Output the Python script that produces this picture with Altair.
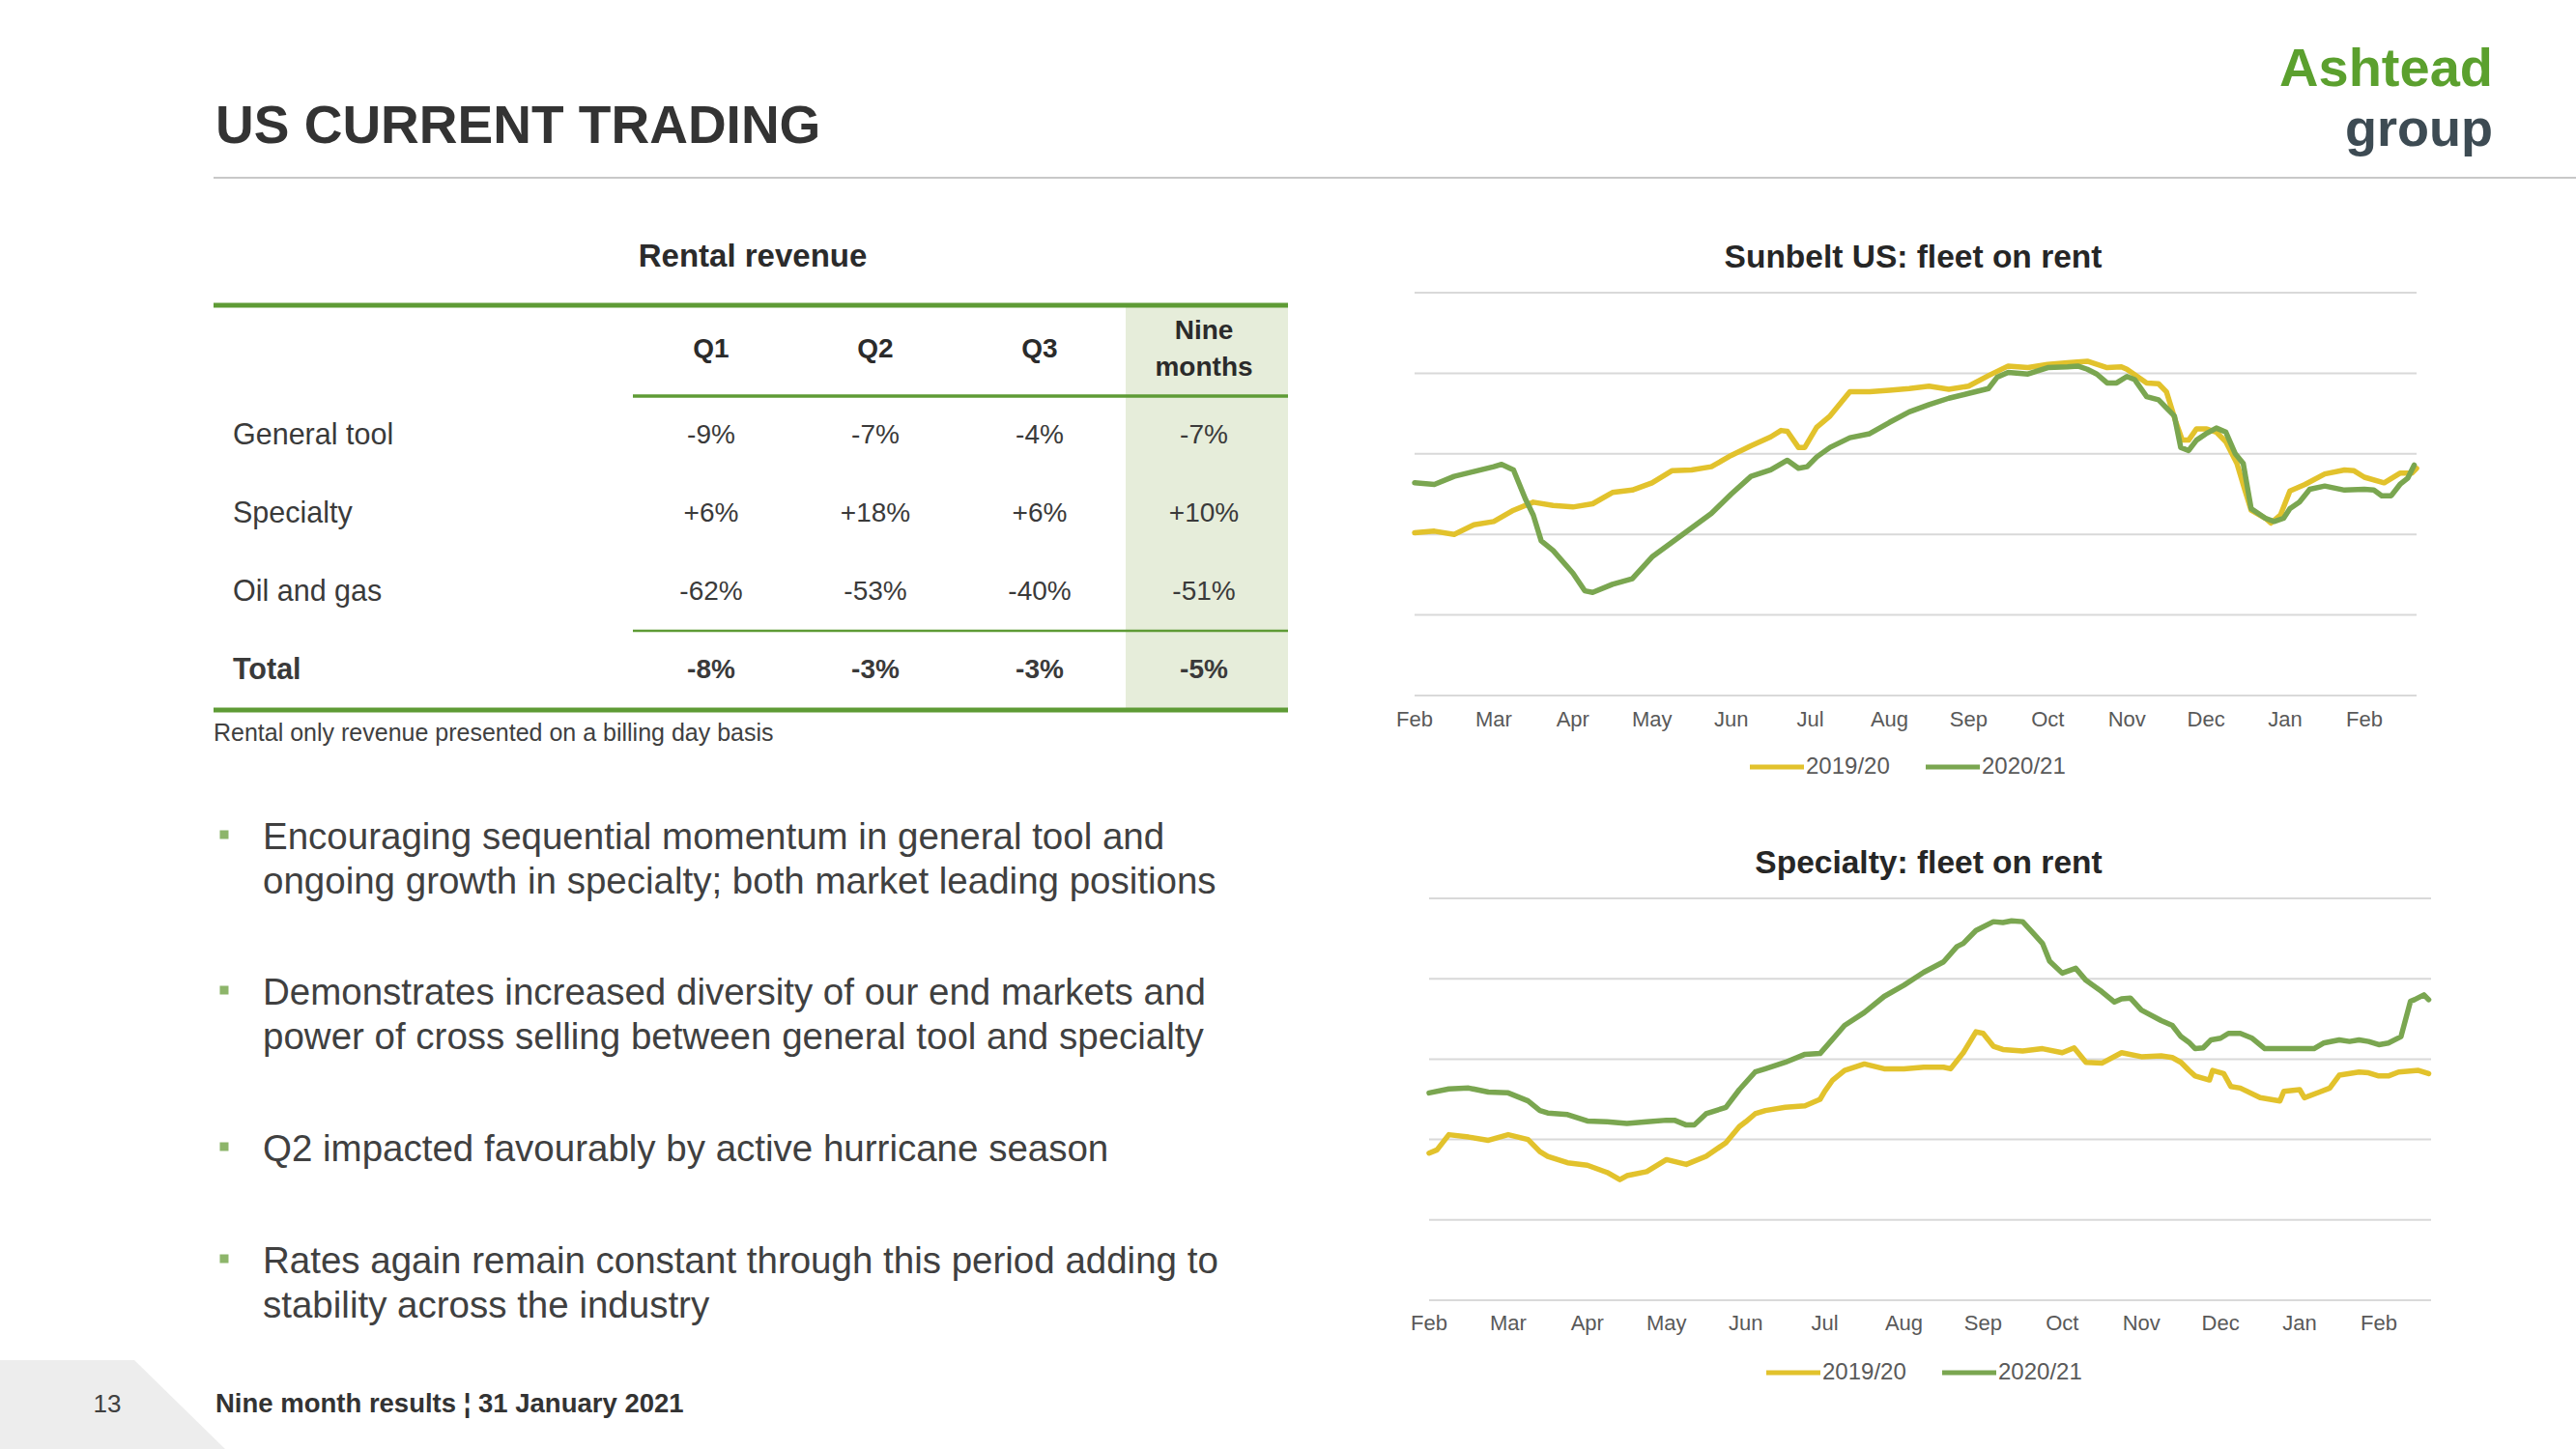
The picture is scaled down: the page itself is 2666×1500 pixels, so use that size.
import altair as alt
import pandas as pd

# ------------------------------------------------------------------ data
month_labels = ["Feb", "Mar", "Apr", "May", "Jun", "Jul", "Aug", "Sep", "Oct", "Nov", "Dec", "Jan", "Feb"]
month_pos = list(range(13))
series_names = ["2019/20", "2020/21"]
grid_levels = [0, 1, 2, 3, 4, 5]

sunbelt_1920_m = [0, 0.25, 0.5, 0.75, 1.0, 1.25, 1.5, 1.75, 2.0, 2.25, 2.5, 2.75, 3.0, 3.25, 3.5, 3.75,
                  4.0, 4.25, 4.5, 4.63, 4.71, 4.85, 4.93, 5.08, 5.25, 5.5, 5.75, 6.0, 6.25, 6.5, 6.75,
                  7.0, 7.25, 7.5, 7.75, 8.0, 8.25, 8.5, 8.75, 8.93, 9.0, 9.25, 9.4, 9.5, 9.62, 9.7,
                  9.78, 9.88, 10.0, 10.13, 10.25, 10.39, 10.5, 10.57, 10.75, 10.82, 10.94, 11.06,
                  11.25, 11.5, 11.75, 11.87, 12.0, 12.25, 12.45, 12.6, 12.66]
sunbelt_1920_v = [2.02, 2.04, 2.00, 2.12, 2.16, 2.30, 2.40, 2.36, 2.34, 2.38, 2.52, 2.55, 2.64, 2.79, 2.80, 2.84,
                  2.98, 3.10, 3.21, 3.29, 3.28, 3.08, 3.08, 3.33, 3.47, 3.77, 3.77, 3.79, 3.81, 3.84, 3.80,
                  3.84, 3.97, 4.09, 4.07, 4.11, 4.13, 4.15, 4.07, 4.08, 4.05, 3.88, 3.87, 3.77, 3.39, 3.17,
                  3.17, 3.31, 3.31, 3.27, 3.15, 2.88, 2.52, 2.30, 2.20, 2.14, 2.24, 2.54,
                  2.62, 2.75, 2.80, 2.79, 2.71, 2.64, 2.76, 2.76, 2.82]

sunbelt_2021_m = [0, 0.25, 0.5, 0.75, 1.0, 1.1, 1.25, 1.4, 1.5, 1.6, 1.75, 2.0, 2.15, 2.25, 2.5, 2.75,
                  3.0, 3.25, 3.5, 3.75, 4.0, 4.25, 4.5, 4.71, 4.85, 4.96, 5.08, 5.25, 5.5, 5.75, 6.0,
                  6.25, 6.5, 6.75, 7.0, 7.25, 7.36, 7.5, 7.75, 8.0, 8.25, 8.38, 8.5, 8.62, 8.75, 8.87,
                  9.0, 9.1, 9.25, 9.4, 9.5, 9.6, 9.68, 9.78, 9.88, 10.0, 10.13, 10.25, 10.37, 10.47,
                  10.57, 10.75, 10.86, 10.98, 11.06, 11.18, 11.31, 11.5, 11.75, 12.0, 12.12, 12.22,
                  12.34, 12.45, 12.55, 12.63]
sunbelt_2021_v = [2.64, 2.62, 2.72, 2.78, 2.84, 2.87, 2.80, 2.44, 2.24, 1.92, 1.80, 1.52, 1.30, 1.28, 1.38, 1.45,
                  1.72, 1.90, 2.08, 2.26, 2.50, 2.72, 2.80, 2.92, 2.82, 2.84, 2.96, 3.08, 3.20, 3.25, 3.39,
                  3.52, 3.61, 3.69, 3.75, 3.81, 3.95, 4.01, 3.99, 4.07, 4.08, 4.09, 4.05, 3.99, 3.88, 3.88,
                  3.96, 3.92, 3.71, 3.67, 3.57, 3.47, 3.08, 3.04, 3.17, 3.25, 3.32, 3.27, 3.00, 2.88,
                  2.32, 2.20, 2.16, 2.20, 2.32, 2.40, 2.56, 2.60, 2.55, 2.56, 2.55, 2.48,
                  2.48, 2.62, 2.70, 2.86]

specialty_1920_m = [0, 0.1, 0.25, 0.5, 0.75, 1.0, 1.25, 1.4, 1.5, 1.75, 2.0, 2.25, 2.41, 2.5, 2.75, 3.0,
                    3.25, 3.5, 3.75, 3.92, 4.0, 4.12, 4.25, 4.5, 4.75, 4.94, 5.0, 5.1, 5.25, 5.5, 5.75,
                    6.0, 6.25, 6.5, 6.59, 6.75, 6.91, 7.0, 7.13, 7.25, 7.5, 7.75, 8.0, 8.15, 8.3, 8.5,
                    8.75, 9.0, 9.25, 9.39, 9.5, 9.6, 9.68, 9.86, 9.9, 10.04, 10.13, 10.25, 10.5, 10.75,
                    10.8, 11.0, 11.06, 11.25, 11.38, 11.5, 11.75, 11.87, 12.0, 12.12, 12.25, 12.5, 12.63]
specialty_1920_v = [1.83, 1.87, 2.06, 2.03, 1.99, 2.06, 2.00, 1.85, 1.79, 1.71, 1.68, 1.59, 1.50, 1.55, 1.60, 1.75,
                    1.69, 1.79, 1.96, 2.16, 2.22, 2.32, 2.36, 2.40, 2.42, 2.50, 2.60, 2.74, 2.86, 2.94, 2.88,
                    2.88, 2.90, 2.90, 2.88, 3.08, 3.34, 3.32, 3.16, 3.12, 3.10, 3.13, 3.08, 3.14, 2.96, 2.95,
                    3.08, 3.03, 3.04, 3.02, 2.96, 2.86, 2.79, 2.74, 2.86, 2.82, 2.66, 2.64, 2.52, 2.48,
                    2.60, 2.62, 2.52, 2.59, 2.64, 2.80, 2.84, 2.83, 2.79, 2.79, 2.84, 2.86, 2.82]

specialty_2021_m = [0, 0.25, 0.5, 0.75, 1.0, 1.25, 1.4, 1.5, 1.75, 2.0, 2.25, 2.5, 2.75, 3.0, 3.1, 3.25,
                    3.35, 3.5, 3.75, 3.92, 4.12, 4.25, 4.5, 4.75, 4.94, 5.1, 5.25, 5.5, 5.75, 6.0, 6.25,
                    6.5, 6.67, 6.75, 6.91, 7.13, 7.25, 7.36, 7.5, 7.64, 7.75, 7.84, 8.0, 8.17, 8.3, 8.5,
                    8.66, 8.75, 8.86, 9.0, 9.25, 9.39, 9.5, 9.6, 9.68, 9.78, 9.88, 10.0, 10.1, 10.25,
                    10.4, 10.56, 10.75, 11.0, 11.18, 11.3, 11.5, 11.63, 11.75, 11.87, 12.0, 12.12, 12.28,
                    12.4, 12.45, 12.57, 12.63]
specialty_2021_v = [2.58, 2.63, 2.64, 2.59, 2.58, 2.48, 2.36, 2.33, 2.31, 2.23, 2.22, 2.20, 2.22, 2.24, 2.24, 2.18,
                    2.18, 2.32, 2.40, 2.62, 2.84, 2.88, 2.96, 3.06, 3.07, 3.25, 3.42, 3.58, 3.78, 3.92, 4.08,
                    4.21, 4.40, 4.44, 4.60, 4.71, 4.70, 4.72, 4.71, 4.56, 4.44, 4.22, 4.07, 4.13, 3.98, 3.84,
                    3.71, 3.75, 3.76, 3.61, 3.48, 3.42, 3.28, 3.21, 3.13, 3.14, 3.24, 3.26, 3.32, 3.32,
                    3.26, 3.13, 3.13, 3.13, 3.13, 3.20, 3.24, 3.22, 3.24, 3.22, 3.18, 3.20, 3.28,
                    3.72, 3.74, 3.80, 3.74]

table_rows = ["General tool", "Specialty", "Oil and gas", "Total"]
table_cols = ["Q1", "Q2", "Q3", "Nine months"]
table_values = [
    ["-9%", "-7%", "-4%", "-7%"],
    ["+6%", "+18%", "+6%", "+10%"],
    ["-62%", "-53%", "-40%", "-51%"],
    ["-8%", "-3%", "-3%", "-5%"],
]

bullets = [
    "Encouraging sequential momentum in general tool and\nongoing growth in specialty; both market leading positions",
    "Demonstrates increased diversity of our end markets and\npower of cross selling between general tool and specialty",
    "Q2 impacted favourably by active hurricane season",
    "Rates again remain constant through this period adding to\nstability across the industry",
]

# ------------------------------------------------------------------ styles
FONT = "Liberation Sans"
YELLOW = "#E2C22C"
GREEN = "#7AA650"
TGREEN = "#5E9B35"
DARK = "#3A3A3A"
GREY = "#595959"

one = pd.DataFrame({"k": [0]})


def label(text, x, y, size, weight="normal", align="left", color=DARK, baseline="middle", **kw):
    return alt.Chart(one).mark_text(
        text=text, font=FONT, fontSize=size, fontWeight=weight, align=align,
        baseline=baseline, color=color, **kw
    ).encode(x=alt.value(x), y=alt.value(y))


def hline(x1, x2, y, color, width):
    return alt.Chart(one).mark_rule(color=color, strokeWidth=width).encode(
        x=alt.value(x1), x2=alt.value(x2), y=alt.value(y))


layers = []

# footer shape
layers.append(alt.Chart(one).mark_point(
    shape="M-1,-0.395L0.193,-0.395L1,0.395L-1,0.395Z", filled=True, size=233 * 233,
    color="#EDEDED", opacity=1, strokeWidth=0).encode(x=alt.value(116.5), y=alt.value(1454)))

# title, separator, logo
layers.append(label("US CURRENT TRADING", 223, 148, 55, "bold", baseline="alphabetic", color="#333333"))
layers.append(hline(221, 2666, 184, "#C8C8C8", 2))
layers.append(label("Ashtead", 2580, 89, 56, "bold", align="right", baseline="alphabetic", color="#5BA02E"))
layers.append(label("group", 2580, 151, 54, "bold", align="right", baseline="alphabetic", color="#3D4B53"))

# ------------------------------------------------------------------ table
layers.append(label("Rental revenue", 779, 266, 33, "bold", align="center", color="#2B2B2B"))
layers.append(alt.Chart(one).mark_rect(color="#E6EDDA").encode(
    x=alt.value(1165), x2=alt.value(1333), y=alt.value(316), y2=alt.value(735)))
layers.append(hline(221, 1333, 316, TGREEN, 5))
layers.append(hline(655, 1333, 410, TGREEN, 3.5))
layers.append(hline(655, 1333, 653, TGREEN, 2.5))
layers.append(hline(221, 1333, 735, TGREEN, 5))

col_scale = alt.Scale(type="point", domain=table_cols, range=[736, 1246], padding=0)
row_scale = alt.Scale(type="point", domain=table_rows, range=[451, 694], padding=0)

hdr = pd.DataFrame({"col": table_cols})
for cond, yv in (("datum.col != 'Nine months'", 362), ("datum.col == 'Nine months'", 343)):
    layers.append(alt.Chart(hdr).transform_filter(cond).mark_text(
        font=FONT, fontSize=28, fontWeight="bold", color="#2B2B2B", baseline="middle",
        lineBreak=" ", lineHeight=38).encode(
        x=alt.X("col:N", scale=col_scale, axis=None), y=alt.value(yv), text="col:N"))

cells = pd.DataFrame([
    {"row": r, "col": c, "val": table_values[i][j]}
    for i, r in enumerate(table_rows) for j, c in enumerate(table_cols)
])
rowlab = pd.DataFrame({"row": table_rows})
for weight, cond in (("normal", "datum.row != 'Total'"), ("bold", "datum.row == 'Total'")):
    layers.append(alt.Chart(rowlab).transform_filter(cond).mark_text(
        font=FONT, fontSize=30.5, fontWeight=weight, color=DARK, align="left", baseline="middle").encode(
        x=alt.value(241), y=alt.Y("row:N", scale=row_scale, axis=None), text="row:N"))
    layers.append(alt.Chart(cells).transform_filter(cond).mark_text(
        font=FONT, fontSize=28, fontWeight=weight, color=DARK, align="center", baseline="middle").encode(
        x=alt.X("col:N", scale=col_scale, axis=None),
        y=alt.Y("row:N", scale=row_scale, axis=None), text="val:N"))

layers.append(label("Rental only revenue presented on a billing day basis", 221, 759, 25, color="#404040"))

# ------------------------------------------------------------------ bullets
bullet_baselines = [879, 1040, 1202, 1318]
for b, yb in zip(bullets, bullet_baselines):
    layers.append(alt.Chart(one).mark_square(color="#8DB56A", size=81, opacity=1).encode(
        x=alt.value(232), y=alt.value(yb - 15)))
    layers.append(label(b, 272, yb, 38.5, baseline="alphabetic", color="#404040",
                        lineBreak="\n", lineHeight=46))


# ------------------------------------------------------------------ line charts
def line_chart(title, tx, ty, m1, v1, m2, v2, x0, x1, ybot, ytop, lab_y, leg_x, leg_y):
    xs = alt.Scale(domain=[0, 12.66], range=[x0, x1], nice=False, zero=False)
    ys = alt.Scale(domain=[0, 5], range=[ybot, ytop], nice=False, zero=False)
    out = []
    grid = pd.DataFrame({"g": grid_levels})
    out.append(alt.Chart(grid).mark_rule(color="#D9D9D9", strokeWidth=2).encode(
        x=alt.X(datum=0, scale=xs, axis=None), x2=alt.X2(datum=12.66),
        y=alt.Y("g:Q", scale=ys, axis=None)))
    df = pd.concat([
        pd.DataFrame({"m": m1, "v": v1, "series": series_names[0]}),
        pd.DataFrame({"m": m2, "v": v2, "series": series_names[1]}),
    ])
    out.append(alt.Chart(df).mark_line(strokeWidth=5.5, strokeJoin="round", strokeCap="round").encode(
        x=alt.X("m:Q", scale=xs, axis=None),
        y=alt.Y("v:Q", scale=ys, axis=None),
        color=alt.Color("series:N", scale=alt.Scale(domain=series_names, range=[YELLOW, GREEN]), legend=None),
        detail="series:N"))
    mdf = pd.DataFrame({"pos": month_pos, "lab": month_labels})
    out.append(alt.Chart(mdf).mark_text(font=FONT, fontSize=22, color=GREY, baseline="middle").encode(
        x=alt.X("pos:Q", scale=xs, axis=None), y=alt.value(lab_y), text="lab:N"))
    out.append(label(title, tx, ty, 33.5, "bold", align="center", color="#262626"))
    for i, (s, c) in enumerate(zip(series_names, [YELLOW, GREEN])):
        lx = leg_x + i * 182
        out.append(hline(lx, lx + 56, leg_y, c, 5))
        out.append(label(s, lx + 58, leg_y, 24, color=GREY))
    return out


layers += line_chart("Sunbelt US: fleet on rent", 1980, 267,
                     sunbelt_1920_m, sunbelt_1920_v, sunbelt_2021_m, sunbelt_2021_v,
                     1464, 2501, 720, 303, 745, 1811, 794)
layers += line_chart("Specialty: fleet on rent", 1996, 894,
                     specialty_1920_m, specialty_1920_v, specialty_2021_m, specialty_2021_v,
                     1479, 2516, 1346, 930, 1370, 1828, 1421)

# ------------------------------------------------------------------ footer
layers.append(label("13", 111, 1454, 26, align="center", color="#404040"))
layers.append(label("Nine month results \u00a6 31 January 2021", 223, 1454, 27.5, "bold", color="#333333"))

chart = alt.layer(*layers).resolve_scale(
    x="independent", y="independent", color="independent"
).properties(
    width=2666, height=1500, autosize="none", padding=0, background="white"
).configure_view(stroke=None)

chart.save("out.html", embed_options={"renderer": "svg", "actions": False})
